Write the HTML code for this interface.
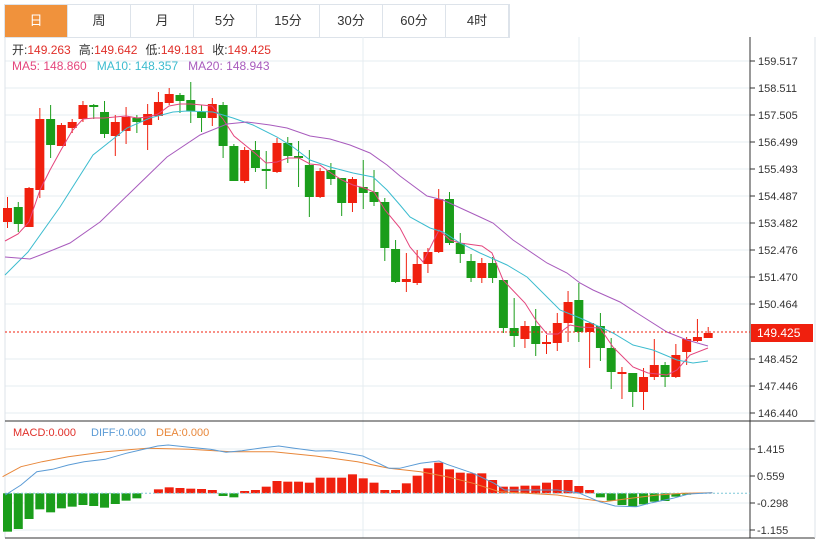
<!DOCTYPE html>
<html><head><meta charset="utf-8"><style>
body{margin:0;background:#fff;width:820px;height:542px;overflow:hidden;font-family:"Liberation Sans","Noto Sans CJK SC",sans-serif}
.tabs{position:absolute;left:4px;top:4px;height:32px;display:flex;border:1px solid #dde3ea}
.tab{width:62px;border-right:1px solid #dde3ea;text-align:center;line-height:32px;font-size:13px;color:#333}
.tab.on{background:#f0923c;color:#fff}
svg{position:absolute;left:0;top:0}
</style></head><body>
<div class="tabs"><div class="tab on">日</div><div class="tab">周</div><div class="tab">月</div><div class="tab">5分</div><div class="tab">15分</div><div class="tab">30分</div><div class="tab">60分</div><div class="tab">4时</div></div>
<svg id="s" width="820" height="542" xmlns="http://www.w3.org/2000/svg" font-family="Liberation Sans, Noto Sans CJK SC, sans-serif"></svg>
<script>
var s=document.getElementById('s'),h='';
function L(x1,y1,x2,y2,c,w,d){h+='<line x1="'+x1+'" y1="'+y1+'" x2="'+x2+'" y2="'+y2+'" stroke="'+c+'" stroke-width="'+(w||1)+'"'+(d?' stroke-dasharray="'+d+'"':'')+'/>';}
function T(x,y,t,c,fs){h+='<text x="'+x+'" y="'+y+'" fill="'+c+'" font-size="'+(fs||12)+'">'+t+'</text>';}
function P(pts,c){h+='<polyline fill="none" stroke="'+c+'" stroke-width="1" points="'+pts.map(p=>p.join(',')).join(' ')+'"/>';}
// grid
var ticks=[[61,'159.517'],[88,'158.511'],[115,'157.505'],[142,'156.499'],[169,'155.493'],[196,'154.487'],[223,'153.482'],[250,'152.476'],[277,'151.470'],[304,'150.464'],[359,'148.452'],[386,'147.446'],[413,'146.440']];
ticks.forEach(t=>{L(5,t[0],750,t[0],'#e6ecf0');L(750,t[0],755,t[0],'#333');T(758,t[0]+4,t[1],'#333',11);});
L(5,37,5,538,'#dde3ea');L(363,37,363,538,'#e6ecf0');L(579,37,579,538,'#e6ecf0');
[[449,'1.415'],[476,'0.559'],[503,'-0.298'],[530,'-1.155']].forEach(t=>{L(5,t[0],750,t[0],'#e6ecf0');L(750,t[0],755,t[0],'#333');T(757,t[0]+4,t[1],'#333',11);});
L(750,37,750,538,'#333');L(5,421,815,421,'#333');L(5,538,815,538,'#333');L(815,37,815,538,'#dde3ea');
// candles: [color, bodyTop, bodyBot, high, low]
var C=[['r',208,222,197,228],['g',207,224,202,232],['r',188,227,187,227],['r',119,190,108,198],['g',119,145,105,158],['r',125,146,123,146],['r',122,128,119,133],['r',105,119,101,122],['g',105,107,104,119],['g',112,134,101,138],['r',122,136,115,156],['r',117,131,107,144],['g',118,122,115,133],['r',114,125,104,150],['r',102,116,92,120],['r',94,103,88,105],['g',95,101,93,113],['g',100,111,82,123],['g',112,118,105,132],['r',104,118,98,126],['g',105,146,102,158],['g',146,181,144,181],['r',150,181,147,183],['g',150,168,141,172],['g',169,171,151,189],['r',143,172,138,173],['g',143,156,137,163],['g',156,158,141,187],['g',165,197,150,217],['r',171,197,168,198],['g',170,179,163,185],['g',178,203,178,216],['r',179,203,177,212],['g',187,193,160,209],['g',192,202,170,206],['g',202,248,198,261],['g',249,282,240,283],['r',279,282,253,292],['r',264,283,250,285],['r',252,264,248,273],['r',199,252,189,253],['g',199,243,192,245],['g',243,254,233,263],['g',261,278,254,282],['r',263,278,258,283],['g',263,278,257,283],['g',280,328,280,333],['g',328,336,298,347],['r',326,339,321,348],['g',326,344,309,356],['r',342,344,335,354],['r',323,343,313,351],['r',302,323,291,342],['g',300,332,283,342],['r',323,332,322,368],['g',326,348,313,361],['g',348,372,338,389],['r',372,373,367,399],['g',373,392,373,407],['r',377,392,368,410],['r',365,377,339,380],['g',365,377,362,387],['r',355,377,344,378],['r',339,352,337,365],['r',337,341,319,342],['r',333,338,327,338]];
function X(i){return 7.5+i*10.78;}
C.forEach((c,i)=>{var x=X(i),col=c[0]=='r'?'#f0200e':'#1a9d1a';L(x,c[3],x,c[4],col);var bh=Math.max(c[2]-c[1],2);h+='<rect x="'+(x-4.5)+'" y="'+c[1]+'" width="9" height="'+bh+'" fill="'+col+'"/>';});
// MAs
P([[5,241],[18,234],[29,222],[40,190],[50,170],[61,150],[72,131],[83,119],[94,118],[104,118],[115,117],[126,116],[137,118],[148,117],[158,114],[169,106],[180,104],[191,104],[202,105],[212,106],[223,119],[234,136],[245,145],[256,154],[266,163],[277,162],[288,158],[299,158],[310,164],[320,165],[331,173],[342,180],[353,185],[364,188],[374,192],[385,210],[400,228],[410,247],[423,262],[439,230],[450,240],[460,243],[482,246],[492,253],[503,280],[525,303],[537,322],[547,334],[558,334],[570,325],[580,327],[600,328],[613,347],[633,367],[648,373],[667,375],[677,370],[690,355],[708,348]],'#e4457d');
P([[5,275],[28,252],[60,207],[93,155],[127,128],[150,118],[173,112],[187,111],[213,112],[233,118],[253,125],[277,137],[293,147],[310,160],[330,167],[353,173],[373,177],[387,190],[400,205],[410,217],[430,228],[443,232],[460,243],[480,253],[507,265],[527,277],[547,297],[560,310],[580,318],[600,327],[613,333],[633,345],[653,350],[677,360],[693,363],[708,361]],'#3cbccf');
P([[5,257],[30,259],[43,254],[70,243],[100,222],[133,190],[167,157],[200,135],[227,124],[247,122],[270,125],[287,128],[310,136],[330,139],[350,145],[370,153],[387,165],[400,176],[427,196],[443,200],[480,217],[493,223],[513,240],[547,263],[567,273],[580,283],[593,290],[620,302],[637,313],[667,332],[687,340],[708,346]],'#a85bbd');
// price line
L(5,332,750,332,'#f0200e',1,'2,2');
h+='<rect x="751" y="324" width="62" height="18" fill="#f0200e"/>';T(757,337,'149.425','#fff',12);
// legend
h+='<text x="12" y="54" font-size="12"><tspan fill="#333">开:</tspan><tspan fill="#e0302a">149.263</tspan><tspan fill="#333" dx="8">高:</tspan><tspan fill="#e0302a">149.642</tspan><tspan fill="#333" dx="8">低:</tspan><tspan fill="#e0302a">149.181</tspan><tspan fill="#333" dx="8">收:</tspan><tspan fill="#e0302a">149.425</tspan></text>';
h+='<text x="12" y="70" font-size="12"><tspan fill="#e4457d">MA5: 148.860</tspan><tspan fill="#3cbccf" dx="10">MA10: 148.357</tspan><tspan fill="#a85bbd" dx="10">MA20: 148.943</tspan></text>';
// MACD
var Z=493.3;
var V=[335,327,297,268,277,265,260,255,258,263,252,242,235,220,208,202,204,206,207,210,228,232,213,210,200,183,185,185,188,173,173,173,163,175,188,210,210,190,167,145,128,148,158,160,160,180,200,200,197,197,188,180,180,198,210,232,242,255,260,253,245,243,230,224,221,220];
V.forEach((v,i)=>{var y=420+v/3,x=X(i);if(Math.abs(y-Z)<0.5)return;var col=y<Z?'#f0200e':'#1a9d1a';h+='<rect x="'+(x-4.5)+'" y="'+Math.min(y,Z)+'" width="9" height="'+Math.abs(y-Z)+'" fill="'+col+'"/>';});
L(5,Z,750,Z,'#7fc8d8',1,'2,2');
function M(a){return a.map(p=>[(p[0]/1.902).toFixed(1),(420+p[1]/3).toFixed(1)]);}
P(M([[5,170],[40,140],[80,125],[130,110],[200,95],[280,85],[360,88],[440,95],[520,95],[600,108],[680,125],[740,145],[800,155],[850,170],[900,190],[950,215],[1000,220],[1060,225],[1100,235],[1150,245],[1200,235],[1250,225],[1300,220],[1355,218]]),'#e8873a');
P(M([[10,225],[40,195],[70,155],[100,148],[130,135],[160,125],[200,118],[240,100],[300,78],[320,75],[360,82],[400,88],[430,97],[460,92],[500,83],[530,78],[560,85],[600,93],[630,92],[660,100],[690,108],[740,145],[760,145],[800,130],[835,123],[850,133],[900,160],[940,190],[960,210],[1000,210],[1060,210],[1100,218],[1140,245],[1170,258],[1210,260],[1240,248],[1280,235],[1310,222],[1355,218]]),'#5b9bd5');
T(13,436,'MACD:0.000','#e0302a',11);T(91,436,'DIFF:0.000','#5b9bd5',11);T(156,436,'DEA:0.000','#e8873a',11);
s.innerHTML=h;
</script>
</body></html>
